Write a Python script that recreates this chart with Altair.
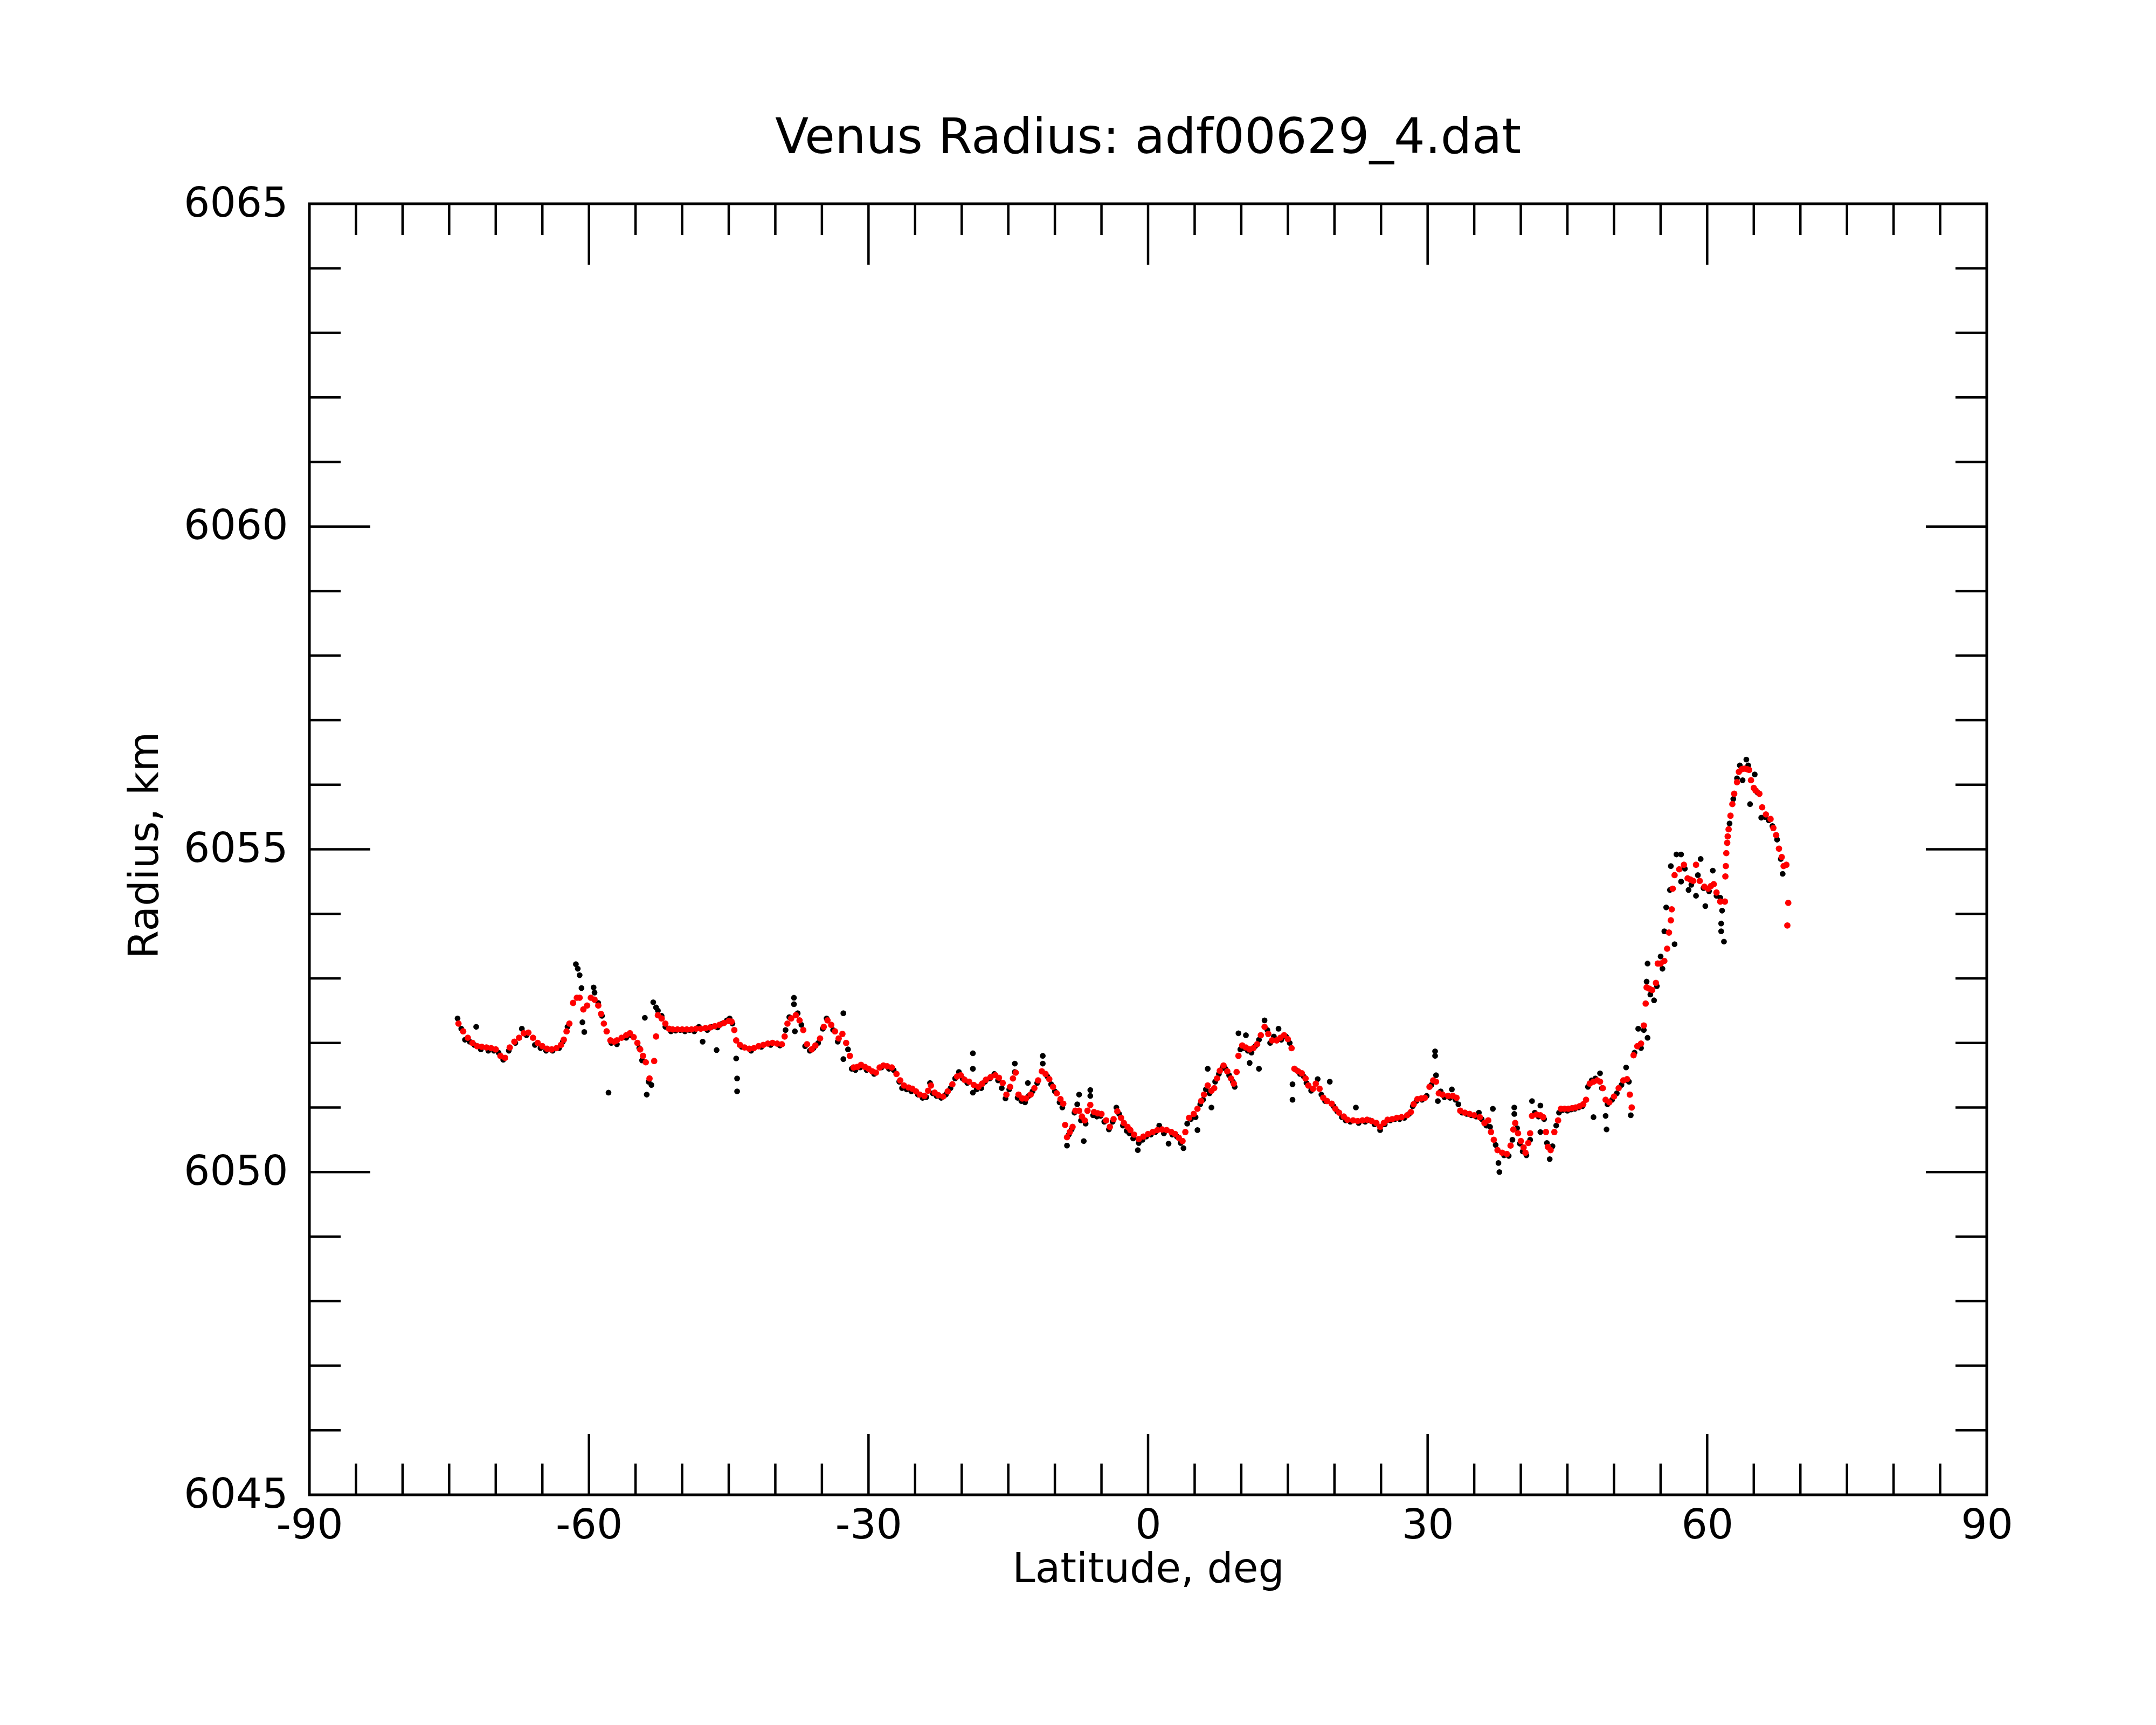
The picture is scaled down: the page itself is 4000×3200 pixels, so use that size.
import altair as alt
import pandas as pd

# ---------------- data ----------------
red_lat = [-74.0, -73.5, -73.0, -72.5, -72.0, -71.5, -71.0, -70.5, -70.0, -69.5, -69.0, -68.5, -68.0, -67.5, -67.0,
           -66.5, -66.0, -65.5, -65.0, -64.5, -64.0, -63.5, -63.0, -62.7, -62.4, -62.1, -61.7, -61.3, -61.0, -60.6,
           -60.2, -59.8, -59.4, -59.0, -58.7, -58.4, -58.1, -57.7, -57.3, -57.0, -56.5, -56.0, -55.6, -55.2, -54.8,
           -54.5, -54.2, -53.9, -53.5, -53.0, -52.8, -52.6, -52.2, -51.8, -51.4, -51.0, -50.5, -50.0, -49.5, -49.0,
           -48.5, -48.0, -47.5, -47.0, -46.5, -46.0, -45.5, -45.0, -44.7, -44.4, -44.2, -43.8, -43.3, -42.8, -42.3,
           -41.8, -41.3, -40.8, -40.3, -39.8, -39.3, -39.0, -38.7, -38.3, -37.8, -37.4, -37.0, -36.6, -36.1, -35.7,
           -35.2, -34.8, -34.4, -34.0, -33.6, -33.2, -32.8, -32.4, -32.0, -31.6, -31.2, -30.8, -30.4, -30.0, -29.6,
           -29.2, -28.8, -28.4, -28.0, -27.5, -27.0, -26.6, -26.2, -25.7, -25.3, -24.9, -24.5, -24.0, -23.6, -23.3,
           -22.9, -22.5, -22.0, -21.5, -21.0, -20.5, -20.1, -19.7, -19.2, -18.7, -18.2, -17.8, -17.4, -16.9, -16.4,
           -16.0, -15.6, -15.2, -14.8, -14.5, -14.2, -13.9, -13.5, -13.1, -12.6, -12.2, -11.8, -11.4, -11.0, -10.6,
           -10.2, -9.8, -9.4, -9.1, -8.9, -8.7, -8.4, -8.1, -7.8, -7.4, -7.1, -6.8, -6.5, -6.2, -5.8,
           -5.4, -5.0, -4.5, -4.1, -3.7, -3.3, -2.9, -2.6, -2.2, -1.9, -1.5, -1.0, -0.5, 0.0, 0.5,
           1.0, 1.5, 2.0, 2.5, 2.9, 3.3, 3.7, 4.0, 4.4, 4.9, 5.3, 5.7, 6.0, 6.4, 6.8,
           7.1, 7.4, 7.7, 8.1, 8.5, 8.9, 9.2, 9.5, 9.7, 10.1, 10.5, 10.9, 11.3, 11.7, 12.1,
           12.5, 12.9, 13.3, 13.8, 14.2, 14.6, 15.0, 15.4, 15.7, 16.1, 16.5, 16.9, 17.2, 17.7, 18.0,
           18.4, 18.8, 19.2, 19.7, 20.1, 20.5, 21.0, 21.4, 22.0, 22.5, 23.0, 23.5, 24.0, 24.5, 24.9,
           25.3, 25.7, 26.2, 26.7, 27.2, 27.8, 28.2, 28.5, 28.9, 29.3, 29.7, 30.2, 30.6, 30.9, 31.2,
           31.6, 32.2, 32.7, 33.1, 33.5, 34.0, 34.5, 35.0, 35.6, 36.1, 36.5, 36.8, 37.1, 37.5, 38.0,
           38.5, 38.9, 39.2, 39.4, 39.7, 40.0, 40.3, 40.5, 40.8, 41.0, 41.2, 41.7, 42.1, 42.4, 42.7,
           42.9, 43.2, 43.6, 44.0, 44.3, 44.7, 45.1, 45.5, 45.9, 46.3, 46.7, 47.0, 47.4, 47.8, 48.2,
           48.5, 48.8, 49.1, 49.5, 50.0, 50.5, 51.0, 51.4, 51.7, 51.9, 52.1, 52.5, 52.9, 53.2, 53.4,
           53.5, 53.8, 54.1, 54.5, 54.7, 55.0, 55.4, 55.7, 55.9, 56.1, 56.2, 56.3, 56.5, 57.0, 57.5,
           57.9, 58.2, 58.5, 58.8, 59.2, 59.7, 60.1, 60.4, 60.7, 61.0, 61.4, 61.9, 61.95, 62.0, 62.05,
           62.15, 62.2, 62.3, 62.5, 62.7, 62.9, 63.2, 63.4, 63.7, 64.0, 64.3, 64.5, 64.7, 65.0, 65.2,
           65.6, 65.9, 66.3, 66.8, 67.1, 67.4, 67.7, 68.0, 68.2, 68.5, 68.7, 68.6]
red_r = [6052.30, 6052.18, 6052.08, 6052.00, 6051.95, 6051.94, 6051.93, 6051.92, 6051.90, 6051.80, 6051.77, 6051.93, 6052.02, 6052.08, 6052.15,
         6052.16, 6052.08, 6052.00, 6051.95, 6051.91, 6051.90, 6051.92, 6051.97, 6052.05, 6052.18, 6052.30, 6052.62, 6052.70, 6052.70, 6052.52,
         6052.58, 6052.70, 6052.67, 6052.58, 6052.45, 6052.30, 6052.18, 6052.04, 6052.02, 6052.04, 6052.08, 6052.12, 6052.15, 6052.09, 6052.00,
         6051.90, 6051.80, 6051.70, 6051.45, 6051.72, 6052.10, 6052.43, 6052.38, 6052.30, 6052.22, 6052.21, 6052.21, 6052.21, 6052.21, 6052.21,
         6052.22, 6052.22, 6052.23, 6052.24, 6052.26, 6052.28, 6052.31, 6052.34, 6052.33, 6052.20, 6052.04, 6051.97, 6051.93, 6051.91, 6051.92,
         6051.95, 6051.97, 6051.99, 6052.00, 6051.99, 6051.98, 6052.10, 6052.30, 6052.38, 6052.43, 6052.35, 6052.20, 6051.98, 6051.90, 6051.96,
         6052.07, 6052.25, 6052.35, 6052.28, 6052.18, 6052.07, 6052.14, 6052.00, 6051.80, 6051.62, 6051.63, 6051.66, 6051.63, 6051.60, 6051.56,
         6051.54, 6051.62, 6051.65, 6051.64, 6051.62, 6051.52, 6051.42, 6051.34, 6051.31, 6051.29, 6051.25, 6051.20, 6051.18, 6051.26, 6051.34,
         6051.23, 6051.19, 6051.17, 6051.25, 6051.36, 6051.48, 6051.50, 6051.43, 6051.40, 6051.35, 6051.32, 6051.37, 6051.43, 6051.47, 6051.50,
         6051.46, 6051.38, 6051.20, 6051.32, 6051.45, 6051.54, 6051.20, 6051.14, 6051.14, 6051.20, 6051.30, 6051.42, 6051.56, 6051.52, 6051.44,
         6051.32, 6051.22, 6051.13, 6051.06, 6050.73, 6050.54, 6050.62, 6050.70, 6050.95, 6050.95, 6050.86, 6050.80, 6050.95, 6051.04, 6050.93,
         6050.91, 6050.90, 6050.80, 6050.70, 6050.82, 6050.94, 6050.84, 6050.76, 6050.70, 6050.65, 6050.58, 6050.51, 6050.55, 6050.59, 6050.62,
         6050.65, 6050.66, 6050.65, 6050.62, 6050.59, 6050.53, 6050.48, 6050.62, 6050.84, 6050.90, 6050.98, 6051.10, 6051.20, 6051.34, 6051.26,
         6051.30, 6051.45, 6051.57, 6051.65, 6051.56, 6051.45, 6051.37, 6051.55, 6051.80, 6051.96, 6051.93, 6051.90, 6051.92, 6051.98, 6052.12,
         6052.25, 6052.14, 6052.04, 6052.04, 6052.08, 6052.12, 6052.06, 6051.92, 6051.60, 6051.56, 6051.53, 6051.45, 6051.34, 6051.29, 6051.37,
         6051.29, 6051.15, 6051.10, 6051.06, 6050.98, 6050.92, 6050.86, 6050.81, 6050.80, 6050.79, 6050.80, 6050.81, 6050.79, 6050.76, 6050.70,
         6050.76, 6050.81, 6050.82, 6050.84, 6050.85, 6050.88, 6050.93, 6051.05, 6051.13, 6051.14, 6051.15, 6051.32, 6051.42, 6051.40, 6051.22,
         6051.20, 6051.18, 6051.18, 6051.15, 6050.95, 6050.92, 6050.90, 6050.88, 6050.85, 6050.76, 6050.80, 6050.62, 6050.50, 6050.34, 6050.30,
         6050.28, 6050.41, 6050.66, 6050.76, 6050.60, 6050.48, 6050.38, 6050.30, 6050.45, 6050.60, 6050.87, 6050.89, 6050.88, 6050.85, 6050.62,
         6050.39, 6050.34, 6050.62, 6050.80, 6050.98, 6050.98, 6050.98, 6050.99, 6051.00, 6051.02, 6051.05, 6051.12, 6051.37, 6051.40, 6051.42,
         6051.40, 6051.30, 6051.12, 6051.08, 6051.17, 6051.30, 6051.42, 6051.44, 6051.20, 6051.00, 6051.81, 6051.95, 6051.99, 6052.27, 6052.61,
         6052.86, 6052.84, 6052.82, 6052.93, 6053.23, 6053.23, 6053.27, 6053.46, 6053.71, 6053.90, 6054.07, 6054.39, 6054.60, 6054.69, 6054.76,
         6054.55, 6054.53, 6054.51, 6054.76, 6054.51, 6054.42, 6054.39, 6054.43, 6054.46, 6054.33, 6054.19, 6054.19, 6054.58, 6054.74, 6054.94,
         6055.10, 6055.20, 6055.31, 6055.52, 6055.70, 6055.86, 6056.04, 6056.20, 6056.24, 6056.25, 6056.24, 6056.23, 6056.07, 6055.95, 6055.91,
         6055.86, 6055.65, 6055.54, 6055.47, 6055.33, 6055.22, 6055.01, 6054.88, 6054.74, 6054.76, 6054.17, 6053.82]

blk_lat = [-74.1, -73.7, -73.3, -72.8, -72.3, -72.1, -71.6, -70.8, -70.2, -69.7, -69.2, -68.6, -67.9, -67.2, -66.7,
           -65.8, -65.2, -64.6, -63.9, -63.2, -62.8, -62.3, -61.4, -61.2, -61.0, -60.8, -60.7, -60.5, -59.5, -59.4,
           -59.0, -58.6, -57.9, -57.6, -57.0, -56.0, -55.5, -54.6, -54.3, -54.0, -53.8, -53.6, -53.3, -53.1, -52.8,
           -52.6, -52.2, -51.8, -51.2, -50.7, -50.2, -49.7, -49.2, -48.7, -48.2, -47.8, -47.3, -46.8, -46.3, -46.2,
           -45.7, -45.2, -44.9, -44.6, -44.2, -44.1, -44.1, -43.6, -42.6, -41.5, -40.5, -39.5, -38.9, -38.5, -38.0,
           -38.0, -37.9, -37.6, -37.2, -36.8, -36.3, -35.9, -35.4, -34.9, -34.5, -33.8, -33.3, -32.7, -32.7, -32.2,
           -31.8, -31.4, -30.9, -30.2, -29.4, -28.6, -27.8, -27.3, -26.7, -26.4, -25.9, -25.4, -24.7, -24.2, -23.8,
           -23.4, -23.1, -22.7, -22.2, -21.7, -21.2, -20.7, -20.3, -19.9, -19.4, -18.8, -18.8, -18.8, -18.4, -17.9,
           -17.5, -17.0, -16.5, -16.1, -15.7, -15.3, -14.9, -14.3, -14.3, -14.0, -13.6, -13.2, -12.9, -12.8, -12.4,
           -11.9, -11.3, -11.3, -10.8, -10.4, -10.0, -9.5, -9.2, -8.7, -8.5, -8.2, -7.9, -7.6, -7.4, -7.2,
           -6.9, -6.7, -6.2, -6.2, -5.9, -5.5, -5.1, -4.7, -4.2, -3.8, -3.4, -3.1, -2.7, -2.3, -2.0,
           -1.6, -1.1, -1.0, -0.6, -0.2, 0.3, 0.8, 1.2, 1.7, 2.2, 2.6, 3.1, 3.5, 3.8, 4.2,
           4.6, 5.1, 5.3, 5.6, 5.9, 6.2, 6.4, 6.6, 6.8, 7.2, 7.6, 8.0, 8.3, 8.7, 9.1,
           9.3, 9.7, 9.9, 10.3, 10.5, 10.7, 10.9, 11.1, 11.5, 11.9, 11.9, 12.5, 12.8, 13.1, 13.5,
           14.0, 14.3, 14.8, 15.2, 15.5, 15.5, 15.9, 16.3, 16.7, 17.0, 17.5, 18.2, 18.6, 19.0, 19.5,
           19.9, 20.3, 20.8, 21.2, 21.7, 22.3, 22.6, 23.3, 23.8, 24.3, 24.9, 25.4, 26.0, 26.5, 27.0,
           27.5, 28.0, 28.4, 28.8, 29.4, 29.9, 30.4, 30.8, 30.8, 30.9, 31.1, 31.4, 31.8, 32.4, 32.6,
           33.0, 33.3, 33.7, 34.2, 34.7, 35.2, 35.5, 35.8, 36.3, 36.7, 37.0, 37.3, 37.6, 37.7, 38.2,
           38.7, 39.1, 39.3, 39.3, 39.6, 39.9, 40.2, 40.6, 41.0, 41.2, 41.5, 41.9, 42.1, 42.1, 42.5,
           42.8, 43.1, 43.4, 43.8, 44.1, 44.5, 45.0, 45.4, 45.8, 46.2, 46.6, 47.2, 47.6, 47.8, 48.0,
           48.5, 48.7, 49.1, 49.2, 49.3, 49.8, 50.3, 50.8, 51.3, 51.6, 51.8, 52.2, 52.6, 52.9, 53.2,
           53.5, 53.6, 53.6, 53.9, 54.3, 54.6, 55.0, 55.2, 55.4, 55.6, 56.0, 56.1, 56.5, 56.7, 57.2,
           57.2, 57.6, 58.0, 58.3, 58.8, 59.0, 59.3, 59.6, 59.8, 60.2, 60.6, 61.0, 61.4, 61.5, 61.5,
           61.6, 61.8, 62.4, 62.8, 63.2, 63.5, 63.8, 64.2, 64.4, 64.6, 65.1, 65.4, 65.8, 66.2, 66.6,
           67.0, 67.5, 67.9, 68.1]
blk_r = [6052.38, 6052.22, 6052.05, 6052.02, 6051.97, 6052.25, 6051.90, 6051.88, 6051.88, 6051.85, 6051.74, 6051.88, 6052.00, 6052.22, 6052.12,
         6051.97, 6051.92, 6051.88, 6051.88, 6051.92, 6052.02, 6052.25, 6053.22, 6053.15, 6053.05, 6052.85, 6052.32, 6052.17, 6052.86, 6052.78,
         6052.62, 6052.42, 6051.23, 6052.00, 6051.98, 6052.08, 6052.12, 6051.92, 6051.73, 6052.39, 6051.20, 6051.40, 6051.35, 6052.63, 6052.55,
         6052.50, 6052.42, 6052.25, 6052.18, 6052.19, 6052.20, 6052.18, 6052.20, 6052.18, 6052.25, 6052.02, 6052.20, 6052.25, 6051.89, 6052.24,
         6052.30, 6052.35, 6052.38, 6052.30, 6051.76, 6051.45, 6051.25, 6051.94, 6051.88, 6051.94, 6051.97, 6051.96, 6052.20, 6052.40, 6052.70,
         6052.60, 6052.18, 6052.46, 6052.28, 6051.95, 6051.88, 6051.92, 6052.00, 6052.22, 6052.38, 6052.20, 6052.02, 6052.46, 6051.75, 6051.90,
         6051.60, 6051.58, 6051.62, 6051.58, 6051.52, 6051.62, 6051.60, 6051.58, 6051.40, 6051.30, 6051.28, 6051.25, 6051.20, 6051.15, 6051.16,
         6051.38, 6051.22, 6051.18, 6051.15, 6051.20, 6051.30, 6051.45, 6051.55, 6051.45, 6051.38, 6051.84, 6051.60, 6051.23, 6051.28, 6051.30,
         6051.40, 6051.45, 6051.52, 6051.42, 6051.30, 6051.14, 6051.28, 6051.68, 6051.55, 6051.15, 6051.10, 6051.08, 6051.38, 6051.18, 6051.25,
         6051.38, 6051.80, 6051.68, 6051.48, 6051.36, 6051.25, 6051.08, 6051.00, 6050.41, 6050.58, 6050.66, 6050.92, 6051.05, 6051.20, 6050.80,
         6050.48, 6050.75, 6051.27, 6051.18, 6050.88, 6050.86, 6050.87, 6050.78, 6050.66, 6050.78, 6051.00, 6050.90, 6050.72, 6050.64, 6050.60,
         6050.52, 6050.34, 6050.45, 6050.50, 6050.55, 6050.58, 6050.62, 6050.72, 6050.60, 6050.44, 6050.58, 6050.55, 6050.45, 6050.37, 6050.75,
         6050.82, 6050.85, 6050.65, 6051.05, 6051.12, 6051.28, 6051.60, 6051.22, 6051.00, 6051.40, 6051.52, 6051.62, 6051.60, 6051.50, 6051.40,
         6051.32, 6052.15, 6051.90, 6051.92, 6052.12, 6051.88, 6051.69, 6051.85, 6051.95, 6051.60, 6052.05, 6052.35, 6052.20, 6052.00, 6052.10,
         6052.22, 6052.05, 6052.10, 6052.00, 6051.36, 6051.12, 6051.58, 6051.52, 6051.48, 6051.38, 6051.26, 6051.44, 6051.20, 6051.10, 6051.40,
         6051.02, 6050.94, 6050.85, 6050.80, 6050.78, 6051.00, 6050.76, 6050.78, 6050.80, 6050.74, 6050.65, 6050.74, 6050.80, 6050.82, 6050.82,
         6050.84, 6050.90, 6051.02, 6051.10, 6051.12, 6051.18, 6051.35, 6051.87, 6051.80, 6051.50, 6051.10, 6051.25, 6051.16, 6051.15, 6051.28,
         6051.12, 6051.05, 6050.92, 6050.90, 6050.88, 6050.86, 6050.92, 6050.82, 6050.72, 6050.70, 6050.98, 6050.42, 6050.14, 6050.00, 6050.26,
         6050.25, 6050.50, 6051.00, 6050.90, 6050.68, 6050.44, 6050.32, 6050.26, 6050.50, 6051.10, 6050.92, 6050.86, 6051.03, 6050.62, 6050.82,
         6050.45, 6050.20, 6050.40, 6050.72, 6050.92, 6050.96, 6050.95, 6050.97, 6050.98, 6051.00, 6051.02, 6051.32, 6051.42, 6050.85, 6051.45,
         6051.53, 6051.30, 6050.87, 6050.66, 6051.05, 6051.12, 6051.22, 6051.35, 6051.62, 6051.40, 6050.88, 6051.85, 6052.22, 6051.92, 6052.20,
         6052.95, 6053.23, 6052.08, 6052.75, 6052.66, 6052.88, 6053.34, 6053.15, 6053.73, 6054.10, 6054.37, 6054.74, 6053.53, 6054.92, 6054.92,
         6054.50, 6054.70, 6054.37, 6054.45, 6054.28, 6054.60, 6054.85, 6054.40, 6054.12, 6054.35, 6054.67, 6054.28, 6054.25, 6053.85, 6053.73,
         6054.05, 6053.57, 6055.40, 6055.78, 6056.10, 6056.30, 6056.07, 6056.39, 6056.30, 6055.70, 6056.16, 6055.88, 6055.49, 6055.50, 6055.45,
         6055.36, 6055.15, 6054.85, 6054.62]

x_label_values = [-90, -60, -30, 0, 30, 60, 90]
y_label_values = [6045, 6050, 6055, 6060, 6065]
x_major_ticks = [-60, -30, 0, 30, 60]
x_minor_ticks = [-85, -80, -75, -70, -65, -55, -50, -45, -40, -35, -25, -20, -15, -10, -5,
                 5, 10, 15, 20, 25, 35, 40, 45, 50, 55, 65, 70, 75, 80, 85]
y_major_ticks = [6050, 6055, 6060]
y_minor_ticks = [6046, 6047, 6048, 6049, 6051, 6052, 6053, 6054, 6056, 6057, 6058, 6059,
                 6061, 6062, 6063, 6064]

# ---------------- chart ----------------
W, H = 3112, 2395
FONT = "DejaVu Sans"
FS = 76
MAJ, MIN = 113, 58
TW = 4.5

xs = alt.Scale(domain=[-90, 90], nice=False, zero=False)
ys = alt.Scale(domain=[6045, 6065], nice=False, zero=False)

x_axis = alt.Axis(values=x_label_values, labelExpr="'' + datum.value", title="Latitude, deg",
                  domain=False, ticks=False, tickSize=0, grid=False,
                  labelFont=FONT, labelFontSize=FS, labelColor="black", labelPadding=20,
                  labelFlush=False, labelOverlap=False, labelLimit=1000,
                  titleFont=FONT, titleFontSize=FS, titleFontWeight="normal", titleColor="black",
                  titleX=W / 2, titleY=161, titleBaseline="alphabetic", titleAlign="center")
y_axis = alt.Axis(values=y_label_values, labelExpr="'' + datum.value", title="Radius, km",
                  domain=False, ticks=False, tickSize=0, grid=False,
                  labelFont=FONT, labelFontSize=FS, labelColor="black", labelPadding=40,
                  labelFlush=False, labelOverlap=False, labelBaseline="middle", labelLimit=1000,
                  titleFont=FONT, titleFontSize=FS, titleFontWeight="normal", titleColor="black",
                  titleAngle=270, titleX=-282, titleY=H / 2 - 8, titleBaseline="alphabetic",
                  titleAlign="center", titleLimit=2000)

black_df = pd.DataFrame({"lat": blk_lat, "r": blk_r})
red_df = pd.DataFrame({"lat": red_lat, "r": red_r})

black_pts = alt.Chart(black_df).mark_circle(size=115, color="black", opacity=1).encode(
    x=alt.X("lat:Q", scale=xs, axis=x_axis, title="Latitude, deg"),
    y=alt.Y("r:Q", scale=ys, axis=y_axis, title="Radius, km"),
)
red_pts = alt.Chart(red_df).mark_circle(size=140, color="#ff0000", opacity=1).encode(
    x=alt.X("lat:Q", scale=xs, axis=x_axis, title="Latitude, deg"),
    y=alt.Y("r:Q", scale=ys, axis=y_axis, title="Radius, km"),
)


def xticks(vals, y0, y1):
    return alt.Chart(pd.DataFrame({"v": vals})).mark_rule(color="black", strokeWidth=TW).encode(
        x=alt.X("v:Q", scale=xs, axis=x_axis, title="Latitude, deg"),
        y=alt.value(y0), y2=alt.value(y1))


def yticks(vals, x0, x1):
    return alt.Chart(pd.DataFrame({"v": vals})).mark_rule(color="black", strokeWidth=TW).encode(
        y=alt.Y("v:Q", scale=ys, axis=y_axis, title="Radius, km"),
        x=alt.value(x0), x2=alt.value(x1))


ticks = [
    xticks(x_major_ticks, H, H - MAJ), xticks(x_minor_ticks, H, H - MIN),
    xticks(x_major_ticks, 0, MAJ), xticks(x_minor_ticks, 0, MIN),
    yticks(y_major_ticks, 0, MAJ), yticks(y_minor_ticks, 0, MIN),
    yticks(y_major_ticks, W, W - MAJ), yticks(y_minor_ticks, W, W - MIN),
]

chart = alt.layer(black_pts, red_pts, *ticks).properties(
    width=W, height=H,
    background="white",
    title=alt.TitleParams("Venus Radius: adf00629_4.dat", font=FONT, fontSize=91,
                          fontWeight="normal", color="black", anchor="middle",
                          baseline="alphabetic", offset=-35),
    autosize=alt.AutoSizeParams(type="none"),
    padding={"left": 566, "top": 370, "right": 306, "bottom": 419},
).configure_view(stroke="black", strokeWidth=5)

chart.save("out.html", embed_options={"renderer": "svg", "actions": False})
